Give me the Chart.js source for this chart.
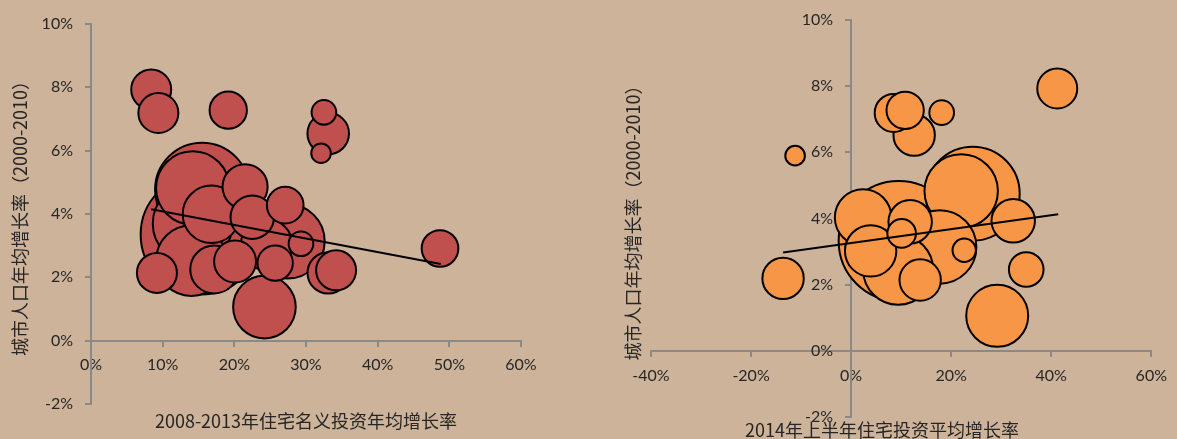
<!DOCTYPE html>
<html>
<head>
<meta charset="utf-8">
<script src="https://cdn.jsdelivr.net/npm/chart.js@4.4.1/dist/chart.umd.min.js"></script>
<style>
  html, body { margin: 0; padding: 0; background: #cdb399; }
  #wrap { position: relative; width: 1177px; height: 439px; overflow: hidden; background: #cdb399; }
  canvas { position: absolute; top: 0; }
  #nominal { left: 0; width: 590px; height: 439px; }
  #halfYear { left: 590px; width: 587px; height: 439px; }
</style>
</head>
<body>
<div id="wrap">
  <canvas id="nominal" width="590" height="439"></canvas>
  <canvas id="halfYear" width="587" height="439"></canvas>
</div>
<script>
// ---- 左图：2008-2013年住宅名义投资年均增长率 vs 城市人口年均增长率（%） ----
const nominalInvest = [8.4, 9.4, 19.15, 32.5, 33.1, 32.1, 15.5, 14.2, 15.3, 14.2, 16.8, 14.0, 9.2,
                       17.2, 20.1, 21.5, 27.1, 22.5, 27.4, 24.5, 29.3, 25.7, 24.2, 33.1, 34.2, 48.7];
const nominalPop    = [7.93, 7.19, 7.28, 7.21, 6.54, 5.92, 4.77, 4.82, 3.35, 3.70, 3.99, 2.53, 2.14,
                       2.25, 2.50, 4.86, 4.28, 3.90, 3.14, 3.03, 3.06, 2.45, 1.06, 2.14, 2.22, 2.91];
const nominalWeight = [100, 100, 87, 38, 108, 24, 552, 337, 900, 400, 206, 312, 100,
                       144, 110, 127, 84, 118, 348, 165, 38, 78, 245, 107, 100, 84];
const nominalTrendX = [8.4, 48.8];
const nominalTrendY = [4.15, 2.42];
const nominalXTicks = [0, 10, 20, 30, 40, 50, 60];

// ---- 右图：2014年上半年住宅投资平均增长率 vs 城市人口年均增长率（%） ----
const halfInvest = [41.2, 8.5, 10.8, 18.1, 12.6, -11.2, 24.3, 22.0, 9.5, 2.4, 3.9, 17.7, 22.6,
                    13.8, 35.0, 29.2, -13.6, 32.4, 10.1, 11.8, 9.4];
const halfPop    = [7.93, 7.19, 7.27, 7.20, 6.52, 5.90, 4.75, 4.83, 3.32, 4.03, 3.02, 3.14, 3.04,
                    2.14, 2.46, 1.06, 2.19, 3.93, 3.55, 3.90, 2.45];
const halfWeight = [100, 90, 87, 38, 107, 24, 552, 337, 900, 200, 165, 337, 34,
                    107, 75, 240, 107, 118, 51, 118, 306];
const halfTrendX = [-13.6, 41.4];
const halfTrendY = [2.97, 4.13];
const halfXTicks = [-40, -20, 0, 20, 40, 60];

const popTicks = [-2, 0, 2, 4, 6, 8, 10];

const AXIS_GREY = '#898989';
const TEXT = '#262626';
const Y_LABEL_GAP = 18;

// 纵轴刻度文字与轴线之间留出间隙
class ShiftedLabelScale extends Chart.LinearScale {
  drawLabels(area) {
    const ctx = this.ctx;
    ctx.save();
    ctx.translate(-Y_LABEL_GAP, 0);
    super.drawLabels(area);
    ctx.restore();
  }
}
ShiftedLabelScale.id = 'shiftedLinear';
ShiftedLabelScale.defaults = Chart.LinearScale.defaults;
Chart.register(ShiftedLabelScale);

const radiusOf = w => 2 * Math.sqrt(w);

function bubblePoints(xs, ys, ws) {
  // 大气泡先画，小气泡叠在上面
  return xs.map((x, i) => ({ x, y: ys[i], r: radiusOf(ws[i]) }))
           .sort((a, b) => b.r - a.r);
}

function axis(ticksArr, extra) {
  return Object.assign({
    type: 'linear',
    min: ticksArr[0],
    max: ticksArr[ticksArr.length - 1],
    afterBuildTicks: s => { s.ticks = ticksArr.map(v => ({ value: v })); },
    ticks: {
      callback: v => v + '%',
      color: TEXT,
      font: { family: 'Lato', size: 16 },
      padding: 10,
      autoSkip: false,
      maxRotation: 0
    },
    grid: { drawOnChartArea: false, drawTicks: true, tickLength: 5, color: AXIS_GREY, lineWidth: 2 },
    border: { display: true, color: AXIS_GREY, width: 2 }
  }, extra);
}

function panel(id, o) {
  const trend = o.trendX.map((x, i) => ({ x, y: o.trendY[i] }));
  return new Chart(document.getElementById(id), {
    type: 'bubble',
    data: {
      datasets: [
        { type: 'line', data: trend, borderColor: '#000', borderWidth: 2, pointRadius: 0,
          fill: false, tension: 0, order: 0 },
        { type: 'bubble', data: bubblePoints(o.x, o.y, o.w), backgroundColor: o.color,
          borderColor: '#000', borderWidth: 2, hoverRadius: 0, order: 1 }
      ]
    },
    options: {
      responsive: false,
      animation: false,
      events: [],
      layout: { padding: o.pad, autoPadding: false },
      scales: {
        x: axis(o.xTicks, { position: { y: 0 } }),
        y: axis(popTicks, { type: 'shiftedLinear', position: { x: 0 } })
      },
      plugins: {
        legend: { display: false },
        tooltip: { enabled: false },
        title: {
          display: true, position: 'left', fullSize: false,
          text: '城市人口年均增长率（2000-2010）',
          color: TEXT,
          font: { family: 'Noto Sans CJK SC', size: 18, weight: 'normal', lineHeight: 1 },
          padding: o.yTitlePad
        },
        subtitle: {
          display: true, position: 'bottom', fullSize: o.xTitleFull,
          text: o.xTitle,
          color: TEXT,
          font: { family: 'Noto Sans CJK SC', size: 18, weight: 'normal', lineHeight: 1 },
          padding: o.xTitlePad
        }
      }
    }
  });
}

panel('nominal', {
  x: nominalInvest, y: nominalPop, w: nominalWeight,
  trendX: nominalTrendX, trendY: nominalTrendY,
  xTicks: nominalXTicks,
  color: '#c0504d',
  pad: { left: 4, right: 69, top: 24, bottom: 9 },
  yTitlePad: { top: 7, bottom: 62 },
  xTitle: '2008-2013年住宅名义投资年均增长率',
  xTitleFull: false,
  xTitlePad: { top: 8, bottom: 0 }
});

panel('halfYear', {
  x: halfInvest, y: halfPop, w: halfWeight,
  trendX: halfTrendX, trendY: halfTrendY,
  xTicks: halfXTicks,
  color: '#f79646',
  pad: { left: 16, right: 19, top: 20, bottom: 0 },
  yTitlePad: { top: 18, bottom: 9 },
  xTitle: '2014年上半年住宅投资平均增长率',
  xTitleFull: true,
  xTitlePad: { top: 4, bottom: 0 }
});
</script>
</body>
</html>
